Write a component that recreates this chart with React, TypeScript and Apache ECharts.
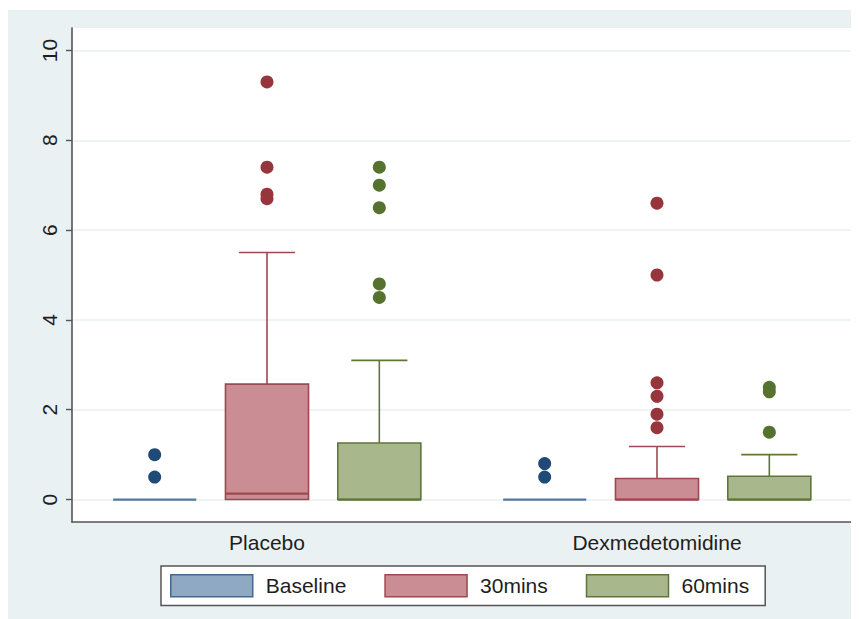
import React, { useEffect, useRef } from 'react';
import * as echarts from 'echarts';

const groups = ['Placebo', 'Dexmedetomidine'];
const timepoints = ['Baseline', '30mins', '60mins'];
// per group: [lower whisker, q1, median, q3, upper whisker]
const baselineBox = [
  [0, 0, 0, 0, 0],
  [0, 0, 0, 0, 0],
];
const mins30Box = [
  [0, 0, 0.13, 2.57, 5.5],
  [0, 0, 0, 0.47, 1.18],
];
const mins60Box = [
  [0, 0, 0, 1.26, 3.1],
  [0, 0, 0, 0.52, 1.0],
];
// outside values per group
const baselineOutliers = [
  [1.0, 0.5],
  [0.8, 0.5],
];
const mins30Outliers = [
  [9.3, 7.4, 6.8, 6.7],
  [6.6, 5.0, 2.6, 2.3, 1.9, 1.6],
];
const mins60Outliers = [
  [7.4, 7.0, 6.5, 4.8, 4.5],
  [2.5, 2.4, 1.5],
];
const yTicks = [0, 2, 4, 6, 8, 10];

const boxes = [baselineBox, mins30Box, mins60Box];
const outliers = [baselineOutliers, mins30Outliers, mins60Outliers];

const fills = ['#8fa8c3', '#c98d93', '#a9b78d'];
const strokes = ['#45698f', '#9e4850', '#607638'];
const dots = ['#1f4a78', '#97353d', '#55732f'];

const STEP = 0.288;
const BOXW = 0.213;
const CAPW = 0.144;
const FONT = '"Liberation Sans", Arial, Helvetica, sans-serif';

export default function App() {
  const ref = useRef<HTMLDivElement>(null);
  useEffect(() => {
    if (!ref.current) return;
    const chart = echarts.init(ref.current, undefined, { renderer: 'svg' });

    const boxSeries = timepoints.map((name, k) => ({
      type: 'custom',
      name,
      itemStyle: { color: fills[k] },
      encode: { x: 0, y: [1, 2, 3, 4, 5] },
      data: boxes[k].map((b, g) => [g, ...b]),
      renderItem: (params: any, api: any) => {
        const g = api.value(0);
        const c0 = api.coord([g, 0]);
        const bw = api.size([1, 0])[0];
        const cx = c0[0] + (k - 1) * bw * STEP;
        const half = (bw * BOXW) / 2;
        const capHalf = (bw * CAPW) / 2;
        const y = (v: number) => api.coord([g, v])[1];
        const yLow = y(api.value(1));
        const yQ1 = y(api.value(2));
        const yMed = y(api.value(3));
        const yQ3 = y(api.value(4));
        const yHigh = y(api.value(5));
        const lineStyle = { stroke: strokes[k], lineWidth: 1.6 };
        const children: any[] = [];
        if (yQ1 - yQ3 > 0.5) {
          children.push({
            type: 'rect',
            shape: { x: cx - half, y: yQ3, width: half * 2, height: yQ1 - yQ3 },
            style: { fill: fills[k], stroke: strokes[k], lineWidth: 1.6 },
          });
        }
        children.push({
          type: 'line',
          shape: { x1: cx - half, y1: yMed, x2: cx + half, y2: yMed },
          style: { stroke: k === 0 ? '#4f79a3' : strokes[k], lineWidth: 2.2 },
        });
        if (yHigh < yQ3 - 0.5) {
          children.push({
            type: 'line',
            shape: { x1: cx, y1: yQ3, x2: cx, y2: yHigh },
            style: lineStyle,
          });
          children.push({
            type: 'line',
            shape: { x1: cx - capHalf, y1: yHigh, x2: cx + capHalf, y2: yHigh },
            style: lineStyle,
          });
        }
        if (yLow > yQ1 + 0.5) {
          children.push({
            type: 'line',
            shape: { x1: cx, y1: yQ1, x2: cx, y2: yLow },
            style: lineStyle,
          });
          children.push({
            type: 'line',
            shape: { x1: cx - capHalf, y1: yLow, x2: cx + capHalf, y2: yLow },
            style: lineStyle,
          });
        }
        return { type: 'group', children };
      },
    }));

    const outlierSeries = timepoints.map((name, k) => ({
      type: 'custom',
      name: name + ' outside values',
      encode: { x: 0, y: 1 },
      data: outliers[k].flatMap((vals, g) => vals.map((v) => [g, v])),
      renderItem: (params: any, api: any) => {
        const g = api.value(0);
        const p = api.coord([g, api.value(1)]);
        const bw = api.size([1, 0])[0];
        const cx = p[0] + (k - 1) * bw * STEP;
        return {
          type: 'circle',
          shape: { cx, cy: p[1], r: 6.5 },
          style: { fill: dots[k] },
        };
      },
    }));

    chart.setOption({
      animation: false,
      backgroundColor: '#eaf1f2',
      grid: {
        left: 64,
        top: 18,
        right: 7,
        bottom: 97,
        show: true,
        backgroundColor: '#ffffff',
        borderWidth: 0,
      },
      xAxis: {
        type: 'category',
        data: groups,
        axisLine: { onZero: false, lineStyle: { color: '#555', width: 1.6 } },
        axisTick: { show: false },
        axisLabel: { fontSize: 21, color: '#1e1e1e', fontFamily: FONT, margin: 10 },
        splitLine: { show: false },
      },
      yAxis: {
        type: 'value',
        min: -0.5,
        max: 10.5,
        axisLine: { show: true, lineStyle: { color: '#555', width: 1.6 } },
        axisTick: { show: true, length: 6, customValues: yTicks, lineStyle: { color: '#555', width: 1.4 } },
        axisLabel: {
          customValues: yTicks,
          rotate: 90,
          fontSize: 21,
          color: '#1e1e1e',
          fontFamily: FONT,
          margin: 12,
        },
        splitLine: { show: true, lineStyle: { color: '#e9efef', width: 1.5 } },
      },
      legend: {
        data: timepoints.map((n, i) => ({
          name: n,
          itemStyle: { color: fills[i], borderColor: strokes[i], borderWidth: 1.5 },
        })),
        left: 153,
        top: 556,
        orient: 'horizontal',
        icon: 'rect',
        itemWidth: 82,
        itemHeight: 22,
        itemGap: 38,
        padding: [8, 16, 8, 9],
        borderColor: '#555',
        borderWidth: 1.5,
        backgroundColor: '#ffffff',
        selectedMode: false,
        textStyle: { fontSize: 21, color: '#1e1e1e', fontFamily: FONT, padding: [0, 0, 0, 8] },
      },
      series: [...boxSeries, ...outlierSeries],
    });
    return () => chart.dispose();
  }, []);
  return (
    <div
      ref={ref}
      style={{ width: 851, height: 609, marginTop: 2 }}
    />
  );
}
